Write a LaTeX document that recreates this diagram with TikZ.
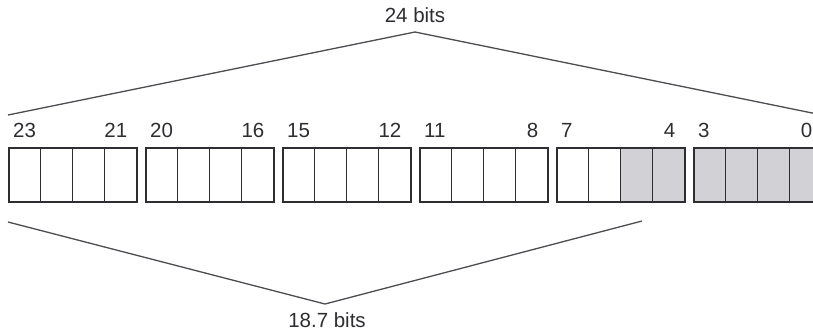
\documentclass[tikz,border=0pt]{standalone}
\usepackage{fontspec}
\setmainfont{Liberation Sans}
\usetikzlibrary{positioning}
\definecolor{bitgray}{RGB}{210,210,214}
\definecolor{inkgray}{RGB}{45,45,50}

\begin{document}
\begin{tikzpicture}[x=1pt,y=-1pt,
    grp/.style={draw=inkgray,line width=1.5pt,minimum width=128pt,minimum height=54pt,anchor=north west,inner sep=0pt},
    cell/.style={draw=inkgray,line width=1pt},
    bitno/.style={font=\fontsize{20.5}{20.5}\selectfont,text=inkgray,inner sep=0pt},
    brace/.style={draw=inkgray!85,line width=1.3pt}]
    \useasboundingbox (0,0) rectangle (813,333);
    \clip (0,0) rectangle (813,333);
    \fill[bitgray] (621,147) rectangle (685,201);
    \fill[bitgray] (693,147) rectangle (821,201);
    \foreach \g/\hi/\lo in {0/23/21,1/20/16,2/15/12,3/11/8,4/7/4,5/3/0} {
        \node[grp] (g\g) at (8+137*\g,147) {};
        \foreach \c in {1,2,3}
            \draw[cell] ([xshift=\c*32pt]g\g.north west) -- ([xshift=\c*32pt]g\g.south west);
        \node[bitno,anchor=base west] (hi\g) at ([xshift=5pt,yshift=10pt]g\g.north west) {\hi};
        \node[bitno,anchor=base east] (lo\g) at ([xshift=-10pt,yshift=10pt]g\g.north east) {\lo};
    }
    \coordinate (topL) at (8,115);
    \coordinate (topM) at (415,32);
    \coordinate (topR) at (822,115);
    \coordinate (botL) at (8,222);
    \coordinate (botM) at (325,304);
    \coordinate (botR) at (642,221);
    \draw[brace] (topL) -- (topM) -- (topR);
    \draw[brace] (botL) -- (botM) -- (botR);
    \node[bitno,above=9pt of topM] (wide) {24 bits};
    \node[bitno,below=8pt of botM,xshift=2pt] (used) {18.7 bits};
\end{tikzpicture}
\end{document}
